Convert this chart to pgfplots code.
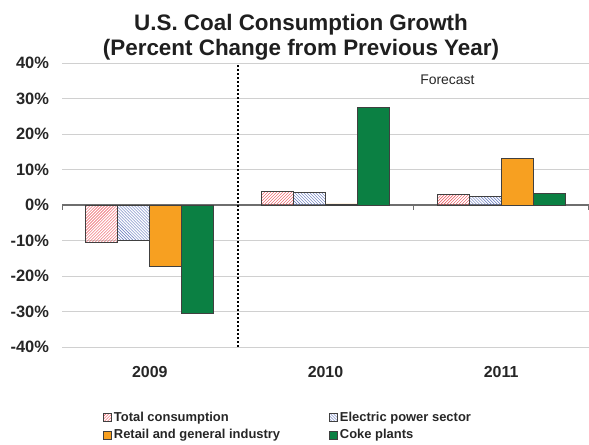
\documentclass[border=0pt]{standalone}
\usepackage{pgfplots}
\pgfplotsset{compat=1.18}
\usetikzlibrary{patterns}
\usepackage{fontspec}
\setmainfont{Liberation Sans}
\definecolor{cred}{HTML}{E8474F}
\definecolor{cblue}{HTML}{5A6FB8}
\definecolor{corange}{HTML}{F7A021}
\definecolor{cgreen}{HTML}{0B8043}
\definecolor{gridc}{HTML}{D0D0D0}
\definecolor{zeroc}{HTML}{6E6E6E}
\begin{document}
\begin{tikzpicture}
\useasboundingbox (0,0) rectangle (589bp,445bp);
\begin{axis}[
  at={(62bp,98bp)}, anchor=south west,
  scale only axis, width=527bp, height=284bp,
  xmin=-0.5, xmax=2.5, ymin=-40, ymax=40,
  axis line style={draw=none},
  major tick length=0pt,
  xtick={0,1,2}, xticklabels={2009,2010,2011},
  ytick={-40,-30,...,40},
  yticklabel={\pgfmathprintnumber{\tick}\%},
  /pgf/number format/assume math mode=true,
  yticklabel style={font=\fontsize{16.5}{18}\bfseries\selectfont, xshift=-9.5bp, text=black!85},
  xticklabel style={font=\fontsize{16}{18}\bfseries\selectfont, yshift=-16bp, text=black!85},
  ymajorgrids, grid style={gridc, line width=0.8bp},
  extra y ticks={0}, extra y tick labels={},
  extra y tick style={grid style={zeroc, line width=1.1bp}},
  ybar=0pt, bar width=32bp,
  legend columns=2,
  legend cell align=left,
  legend style={draw=none, fill=none,
    at={(axis description cs:0.072,-0.213)}, anchor=north west,
    font=\fontsize{13}{15}\bfseries\selectfont, text=black!85,
    /tikz/every even column/.append style={column sep=47bp},
    row sep=3bp},
  legend image code/.code={\draw[#1] (0bp,-4bp) rectangle (8bp,4bp);},
]
\addplot[draw=black!75, line width=0.8bp, pattern=north east lines, pattern color=cred]
  coordinates {(0,-10.4) (1,3.75) (2,2.9)};
\addplot[draw=black!75, line width=0.8bp, pattern=north west lines, pattern color=cblue]
  coordinates {(0,-9.9) (1,3.6) (2,2.4)};
\addplot[draw=black!75, line width=0.8bp, fill=corange]
  coordinates {(0,-17.4) (1,0.3) (2,13.0)};
\addplot[draw=black!75, line width=0.8bp, fill=cgreen]
  coordinates {(0,-30.4) (1,27.5) (2,3.2)};
\legend{Total consumption, Electric power sector, Retail and general industry, Coke plants}
\draw[zeroc, line width=1.1bp] (axis cs:-0.5,0) -- ([yshift=-5bp]axis cs:-0.5,0);
\draw[zeroc, line width=1.1bp] (axis cs:1.5,0) -- ([yshift=-5bp]axis cs:1.5,0);
\draw[zeroc, line width=1.1bp] ([xshift=-0.6bp]axis cs:2.5,0) -- ([xshift=-0.6bp,yshift=-5bp]axis cs:2.5,0);
\draw[black, line width=1.8bp, dash pattern=on 1.8bp off 2.2bp] (axis cs:0.5,-40) -- (axis cs:0.5,40);
\node[font=\fontsize{14}{16}\selectfont, text=black!85] at (axis cs:1.694,35.2) {Forecast};
\end{axis}
\node[align=center, font=\fontsize{22.5}{25}\bfseries\selectfont, text=black!88] at (301bp,408bp)
  {U.S. Coal Consumption Growth\\(Percent Change from Previous Year)};
\end{tikzpicture}
\end{document}
